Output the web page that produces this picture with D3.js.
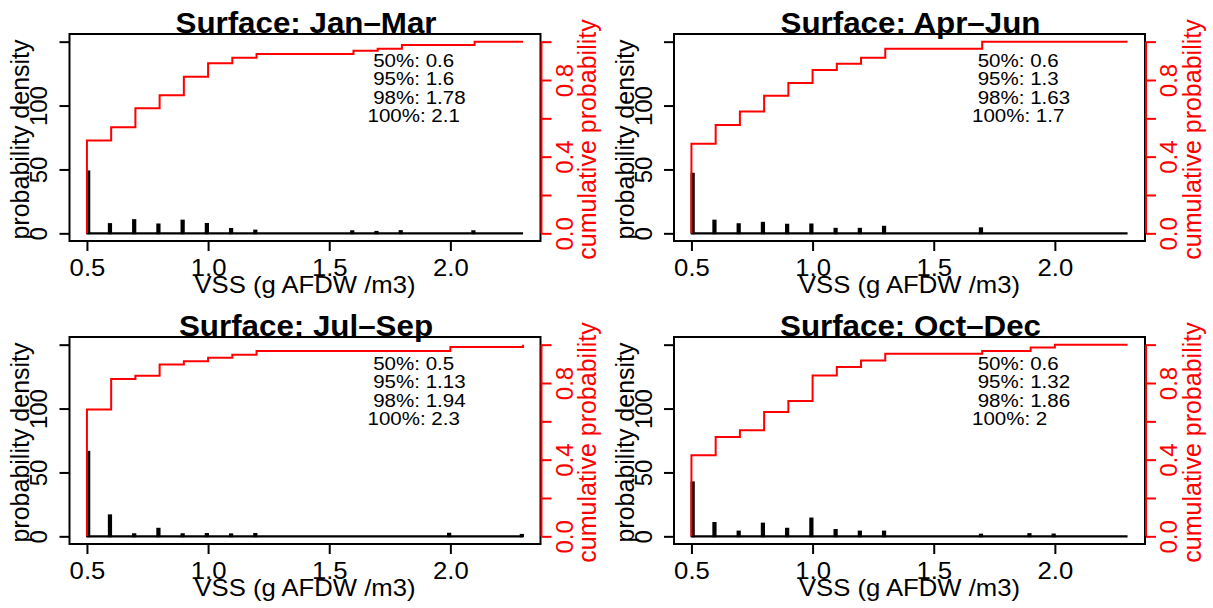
<!DOCTYPE html>
<html><head><meta charset="utf-8">
<script src="https://cdn.jsdelivr.net/npm/d3@7"></script>
<style>html,body{margin:0;padding:0;background:#fff;} svg{display:block;font-family:"Liberation Sans",Arial,Helvetica,sans-serif;}</style>
</head><body><svg id="chart" width="1213" height="608"></svg>
<script>
// ---- data ----
const titles = ["Surface: Jan\u2013Mar", "Surface: Apr\u2013Jun", "Surface: Jul\u2013Sep", "Surface: Oct\u2013Dec"];

const vssJanMar  = [0.5, 0.6, 0.7, 0.8, 0.9, 1.0, 1.1, 1.2, 1.6, 1.7, 1.8, 2.1];
const densJanMar = [48.5, 7.3, 10.4, 7.0, 10.0, 7.4, 3.5, 2.2, 1.7, 1.2, 1.8, 1.7];
const cumJanMar  = [0.485, 0.553, 0.652, 0.720, 0.817, 0.887, 0.916, 0.936, 0.953, 0.963, 0.983, 1.0];

const vssAprJun  = [0.5, 0.6, 0.7, 0.8, 0.9, 1.0, 1.1, 1.2, 1.3, 1.7];
const densAprJun = [46.7, 10.0, 7.2, 8.3, 6.8, 7.0, 3.6, 3.6, 5.2, 4.0];
const cumAprJun  = [0.467, 0.565, 0.636, 0.718, 0.784, 0.852, 0.885, 0.916, 0.963, 1.0];

const vssJulSep  = [0.5, 0.6, 0.7, 0.8, 0.9, 1.0, 1.1, 1.2, 2.0, 2.3];
const densJulSep = [66.2, 16.5, 1.7, 6.0, 1.7, 1.9, 1.6, 1.9, 2.1, 1.2];
const cumJulSep  = [0.662, 0.821, 0.838, 0.896, 0.913, 0.932, 0.948, 0.967, 0.988, 1.0];

const vssOctDec  = [0.5, 0.6, 0.7, 0.8, 0.9, 1.0, 1.1, 1.2, 1.3, 1.7, 1.9, 2.0];
const densOctDec = [42.3, 10.5, 3.8, 10.0, 6.0, 14.0, 5.0, 3.8, 3.8, 1.4, 1.8, 1.5];
const cumOctDec  = [0.423, 0.518, 0.553, 0.649, 0.706, 0.839, 0.884, 0.918, 0.953, 0.967, 0.985, 1.0];

const quantNames   = [" 50%", " 95%", " 98%", "100%"];
const quantJanMar  = ["0.6", "1.6", "1.78", "2.1"];
const quantAprJun  = ["0.6", "1.3", "1.63", "1.7"];
const quantJulSep  = ["0.5", "1.13", "1.94", "2.3"];
const quantOctDec  = ["0.6", "1.32", "1.86", "2"];

const xTicks = [0.5, 1.0, 1.5, 2.0];
const xTickLabels = ["0.5", "1.0", "1.5", "2.0"];
const densTicks = [0, 50, 100, 150];
const densTickLabels = ["0", "50", "100", ""];
const cumTicks = [0, 0.2, 0.4, 0.6, 0.8, 1.0];
const cumTickLabels = ["0.0", "", "0.4", "", "0.8", ""];

const xExtent = [0.5, 2.3];
const densExtent = [0, 150];
const cumExtent = [0, 1];
const binWidth = 0.01;

const xLabel = "VSS (g AFDW /m3)";
const yLabelLeft = "probability density";
const yLabelRight = "cumulative probability";

// ---- assemble panels ----
const panels = [
  {title: titles[0], vss: vssJanMar, dens: densJanMar, cum: cumJanMar, q: quantJanMar},
  {title: titles[1], vss: vssAprJun, dens: densAprJun, cum: cumAprJun, q: quantAprJun},
  {title: titles[2], vss: vssJulSep, dens: densJulSep, cum: cumJulSep, q: quantJulSep},
  {title: titles[3], vss: vssOctDec, dens: densOctDec, cum: cumOctDec, q: quantOctDec}
];

const RED = "#ff0000";
const svg = d3.select("#chart");
svg.append("rect").attr("width", 1213).attr("height", 608).attr("fill", "#fff");

const box = {left: 69.5, right: 540.5, top: 34, bottom: 241};
const pad = (e) => { const d = (e[1] - e[0]) * 0.04; return [e[0] - d, e[1] + d]; };

const x = d3.scaleLinear().domain(pad(xExtent)).range([box.left, box.right]);
const yL = d3.scaleLinear().domain(pad(densExtent)).range([box.bottom, box.top]);
const yR = d3.scaleLinear().domain(pad(cumExtent)).range([box.bottom, box.top]);
const cx = (box.left + box.right) / 2;
const cy = (box.top + box.bottom) / 2;
const FS = 24;
const SX = 1.07; // horizontal widening of horizontal text seen in the reference

panels.forEach((p, i) => {
  const g = svg.append("g")
    .attr("transform", `translate(${(i % 2) * 604.5},${Math.floor(i / 2) * 303})`);

  // histogram bars
  const lo = v => Math.max(xExtent[0], v - binWidth);
  g.append("g").selectAll("rect").data(p.vss.map((v, k) => ({v, d: p.dens[k]})))
    .join("rect")
    .attr("x", d => x(lo(d.v)))
    .attr("width", d => x(lo(d.v) + binWidth) - x(lo(d.v)))
    .attr("y", d => yL(d.d))
    .attr("height", d => yL(0) - yL(d.d))
    .attr("fill", "#000").attr("stroke", "#000").attr("stroke-width", 1.8);

  // zero-height bins baseline
  g.append("line")
    .attr("x1", x(xExtent[0])).attr("x2", x(xExtent[1]))
    .attr("y1", yL(0)).attr("y2", yL(0))
    .attr("stroke", "#000").attr("stroke-width", 2.2);

  // ECDF step line
  const pts = [[xExtent[0], 0]].concat(p.vss.map((v, k) => [v, p.cum[k]]))
    .concat([[xExtent[1], p.cum[p.cum.length - 1]]]);
  g.append("path")
    .attr("d", d3.line().x(d => x(d[0])).y(d => yR(d[1])).curve(d3.curveStepAfter)(pts))
    .attr("fill", "none").attr("stroke", RED).attr("stroke-width", 2);

  // box
  g.append("rect")
    .attr("x", box.left).attr("y", box.top)
    .attr("width", box.right - box.left).attr("height", box.bottom - box.top)
    .attr("fill", "none").attr("stroke", "#000").attr("stroke-width", 2);

  // bottom axis
  const ax = g.append("g").attr("transform", `translate(0,${box.bottom})`)
    .call(d3.axisBottom(x).tickValues(xTicks).tickFormat((d, k) => xTickLabels[k])
      .tickSize(10).tickSizeOuter(0));
  ax.select(".domain").remove();
  ax.selectAll("line").attr("stroke", "#000").attr("stroke-width", 2);
  ax.selectAll("text").attr("y", 0).attr("dy", 0).attr("transform", `translate(0,35) scale(${SX},1)`)
    .attr("font-size", FS).attr("fill", "#000").attr("font-family", null);

  // left axis
  const al = g.append("g").attr("transform", `translate(${box.left},0)`)
    .call(d3.axisLeft(yL).tickValues(densTicks).tickFormat((d, k) => densTickLabels[k])
      .tickSize(10).tickSizeOuter(0));
  al.select(".domain").remove();
  al.selectAll("line").attr("stroke", "#000").attr("stroke-width", 2);
  al.selectAll("text").attr("x", 0).attr("dy", 0).attr("text-anchor", "middle")
    .attr("transform", "translate(-22.5,0) rotate(-90)")
    .attr("font-size", FS).attr("fill", "#000").attr("font-family", null);

  // right axis (red)
  const ar = g.append("g").attr("transform", `translate(${box.right + 1},0)`)
    .call(d3.axisRight(yR).tickValues(cumTicks).tickFormat((d, k) => cumTickLabels[k])
      .tickSize(10).tickSizeOuter(0));
  ar.select(".domain").remove();
  ar.append("line").attr("x1", 0).attr("x2", 0)
    .attr("y1", yR(cumExtent[0])).attr("y2", yR(cumExtent[1]))
    .attr("stroke", RED).attr("stroke-width", 2);
  ar.selectAll(".tick line").attr("stroke", RED).attr("stroke-width", 2);
  ar.selectAll("text").attr("x", 0).attr("dy", 0).attr("text-anchor", "middle")
    .attr("transform", "translate(31,0) rotate(-90)")
    .attr("font-size", FS).attr("fill", RED).attr("font-family", null);

  // axis titles
  g.append("text").attr("transform", `translate(${cx},293) scale(${SX},1)`).attr("text-anchor", "middle")
    .attr("font-size", FS).attr("fill", "#000").text(xLabel);
  g.append("text").attr("transform", `translate(29,${cy + 2}) rotate(-90)`)
    .attr("text-anchor", "middle").attr("font-size", 25).attr("fill", "#000").text(yLabelLeft);
  g.append("text").attr("transform", `translate(596,${cy + 2}) rotate(-90)`)
    .attr("text-anchor", "middle").attr("font-size", 25).attr("fill", RED).text(yLabelRight);

  // title
  g.append("text").attr("transform", `translate(${cx + 1},33) scale(1.08,1)`).attr("text-anchor", "middle")
    .attr("font-size", 29).attr("font-weight", "bold").attr("fill", "#000").text(p.title);

  // quantile annotations
  const ann = g.append("g");
  quantNames.forEach((n, k) => {
    ann.append("text").attr("transform", `translate(367.5,${66.5 + k * 18.5}) scale(1.08,1)`)
      .attr("xml:space", "preserve").style("white-space", "pre")
      .attr("font-size", 19).attr("fill", "#000")
      .text(n + ": " + p.q[k]);
  });
});
</script>
</body></html>
